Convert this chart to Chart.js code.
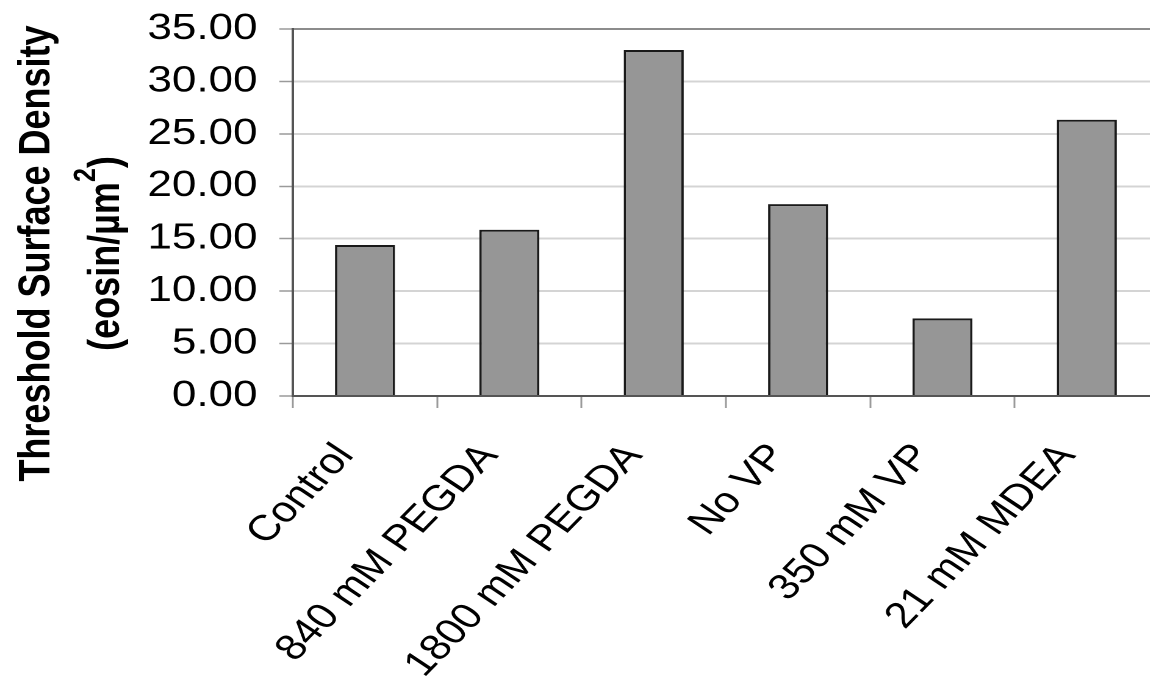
<!DOCTYPE html>
<html>
<head>
<meta charset="utf-8">
<script src="https://cdn.jsdelivr.net/npm/chart.js@4/dist/chart.umd.min.js"></script>
<style>
  html, body { margin: 0; padding: 0; background: #fff; overflow: hidden; width: 1150px; height: 686px; }
  /* the figure is drawn on a narrower canvas and widened horizontally */
  #wrap { width: 950px; height: 686px; transform: scaleX(1.22); transform-origin: 0 0; }
  #chart { display: block; }
</style>
</head>
<body>
<div id="wrap"><canvas id="chart" width="950" height="686"></canvas></div>
<script>
// Sample conditions
const categories = ['Control', '840 mM PEGDA', '1800 mM PEGDA', 'No VP', '350 mM VP', '21 mM MDEA'];
// Threshold surface density (eosin/µm²)
const thresholdDensity = [14.4, 15.85, 33.0, 18.3, 7.4, 26.35];
// Y-axis tick labels, bottom to top
const yTickLabels = ['0.00', '5.00', '10.00', '15.00', '20.00', '25.00', '30.00', '35.00'];
// Axis title: first line, then second line split around the superscript
const titleLine1 = 'Threshold Surface Density';
const titleLine2 = ['(eosin/µm', '2', ')'];

const FONT = '"Liberation Sans", Arial, Helvetica, sans-serif';

// fixed axis band sizes so the plot area sits where the figure needs it
const Y_AXIS_WIDTH = 240;
const X_AXIS_HEIGHT = 290;

function pinAxis(size, horizontal) {
  return scale => {
    if (horizontal) scale.height = size; else scale.width = size;
    scale.paddingTop = 0; scale.paddingBottom = 0;
    scale.paddingLeft = 0; scale.paddingRight = 0;
  };
}

const axisTitlePlugin = {
  id: 'axisTitle',
  afterDraw(chart) {
    const c = chart.ctx;
    const cy = 253.5;
    c.save();
    c.fillStyle = '#000';
    c.translate(40.5, cy);
    c.rotate(-Math.PI / 2);
    c.font = 'bold 36px ' + FONT;
    c.textAlign = 'center';
    c.textBaseline = 'alphabetic';
    c.fillText(titleLine1, 0, 0);
    c.restore();

    c.save();
    c.fillStyle = '#000';
    c.translate(97.4, cy);
    c.rotate(-Math.PI / 2);
    c.textAlign = 'left';
    c.textBaseline = 'alphabetic';
    const mainFont = 'bold 36px ' + FONT;
    const supFont = 'bold 25px ' + FONT;
    c.font = mainFont;
    const wA = c.measureText(titleLine2[0]).width;
    const wC = c.measureText(titleLine2[2]).width;
    c.font = supFont;
    const wB = c.measureText(titleLine2[1]).width;
    let x = -(wA + wB + wC) / 2;
    c.font = mainFont;
    c.fillText(titleLine2[0], x, 0);
    x += wA;
    c.font = supFont;
    c.fillText(titleLine2[1], x, -19.5);
    x += wB;
    c.font = mainFont;
    c.fillText(titleLine2[2], x, 0);
    c.restore();
  }
};

new Chart(document.getElementById('chart'), {
  type: 'bar',
  data: {
    labels: categories,
    datasets: [{
      data: thresholdDensity,
      backgroundColor: '#969696',
      borderColor: '#1a1a1a',
      borderWidth: 2,
      borderSkipped: 'bottom',
      barPercentage: 0.416,
      categoryPercentage: 1
    }]
  },
  options: {
    responsive: false,
    animation: false,
    devicePixelRatio: 2,
    layout: { padding: { left: 0, top: 29, right: 0, bottom: 0 } },
    plugins: { legend: { display: false }, tooltip: { enabled: false } },
    scales: {
      x: {
        afterFit: pinAxis(X_AXIS_HEIGHT, true),
        grid: {
          offset: true,
          drawOnChartArea: false,
          drawTicks: true,
          tickLength: 12,
          tickColor: '#9a9a9a',
          tickWidth: 1.5
        },
        border: { color: '#555', width: 2 },
        ticks: {
          autoSkip: false,
          minRotation: 51,
          maxRotation: 51,
          padding: 28,
          labelOffset: -16,
          color: '#000',
          font: { family: FONT, size: 36 }
        }
      },
      y: {
        min: 0,
        max: 35,
        afterFit: pinAxis(Y_AXIS_WIDTH, false),
        ticks: {
          stepSize: 5,
          padding: 18,
          color: '#000',
          font: { family: FONT, size: 36 },
          callback: (v, i) => yTickLabels[i]
        },
        grid: {
          color: ctx => (ctx.tick && ctx.tick.value === 35) ? '#8c8c8c' : '#d4d4d4',
          lineWidth: 2,
          tickLength: 11,
          tickColor: '#9a9a9a',
          tickWidth: 1.5
        },
        border: { color: '#555', width: 2 }
      }
    }
  },
  plugins: [axisTitlePlugin]
});
</script>
</body>
</html>
